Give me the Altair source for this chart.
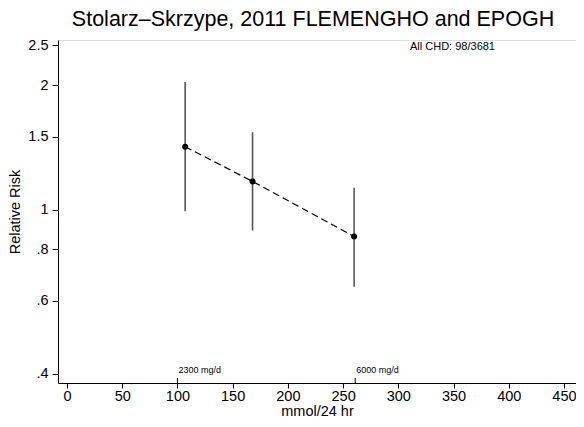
import altair as alt
import pandas as pd

# data
sodium = [107, 168, 260]
rr = [1.42, 1.17, 0.86]
rr_lo = [0.99, 0.89, 0.65]
rr_hi = [2.04, 1.54, 1.13]

ref_x = [100, 261]
ref_labels = ["2300 mg/d", "6000 mg/d"]

y_ticks = [0.4, 0.6, 0.8, 1, 1.5, 2, 2.5]
x_ticks = [0, 50, 100, 150, 200, 250, 300, 350, 400, 450]

title_text = "Stolarz\u2013Skrzype, 2011 FLEMENGHO and EPOGH"
note_text = "All CHD: 98/3681"

df = pd.DataFrame({"x": sodium, "rr": rr, "lo": rr_lo, "hi": rr_hi})
ref = pd.DataFrame({"x": ref_x, "label": ref_labels})
note = pd.DataFrame({"t": [note_text]})

FONT = "Liberation Sans"
W, H = 518, 343
xs = alt.Scale(domain=[-8.15, 460.9], nice=False, zero=False)
ys = alt.Scale(type="log", domain=[0.3794, 2.578], nice=False)

xaxis = alt.Axis(values=x_ticks, title="mmol/24 hr", grid=False, tickSize=5,
                 labelFontSize=14.5, titleFontSize=14.5, labelFont=FONT, titleFont=FONT,
                 labelColor="black", titleColor="black", domainColor="black",
                 tickColor="black", labelPadding=1,
                 titleBaseline="alphabetic", titleY=32,
                 titleFontWeight="normal", labelFlush=False)
yaxis = alt.Axis(values=y_ticks, title="Relative Risk", grid=False, tickSize=6,
                 labelFontSize=14.5, titleFontSize=14.5, labelFont=FONT, titleFont=FONT,
                 labelColor="black", titleColor="black", domainColor="black",
                 tickColor="black", labelPadding=4, titlePadding=5,
                 titleFontWeight="normal", labelFlush=False,
                 labelExpr="replace(toString(datum.value), '0.', '.')")

base = alt.Chart(df)

bars = base.mark_rule(color="#555555", strokeWidth=1.6).encode(
    x=alt.X("x:Q", scale=xs, axis=xaxis),
    y=alt.Y("lo:Q", scale=ys, axis=yaxis),
    y2="hi:Q",
)
line = base.mark_line(color="black", strokeWidth=1.2, strokeDash=[7, 4]).encode(
    x=alt.X("x:Q", scale=xs),
    y=alt.Y("rr:Q", scale=ys),
)
pts = base.mark_circle(color="black", size=36, opacity=1).encode(
    x=alt.X("x:Q", scale=xs),
    y=alt.Y("rr:Q", scale=ys),
)
ref_ticks = alt.Chart(ref).mark_rule(color="black", strokeWidth=1).encode(
    x=alt.X("x:Q", scale=xs),
    y=alt.value(H),
    y2=alt.value(H - 5),
)
ref_text = alt.Chart(ref).mark_text(align="left", baseline="alphabetic", fontSize=9,
                                    font=FONT, color="black", dx=1).encode(
    x=alt.X("x:Q", scale=xs),
    y=alt.value(H - 10),
    text="label:N",
)
note_mark = alt.Chart(note).mark_text(align="left", baseline="middle", fontSize=11,
                                      font=FONT, color="black").encode(
    x=alt.value(352),
    y=alt.value(7),
    text="t:N",
)

chart = alt.layer(bars, line, pts, ref_ticks, ref_text, note_mark).properties(
    width=W,
    height=H,
    title=alt.TitleParams(title_text, fontSize=21.5, font=FONT, fontWeight="normal",
                          color="black", anchor="middle", dx=-4, offset=-10,
                          baseline="alphabetic"),
    autosize=alt.AutoSizeParams(type="none"),
    padding={"left": 50, "top": 32, "right": 0, "bottom": 35},
).configure_view(stroke=None).configure(background="white")

chart.save("out.html", embed_options={"renderer": "svg", "actions": False})
